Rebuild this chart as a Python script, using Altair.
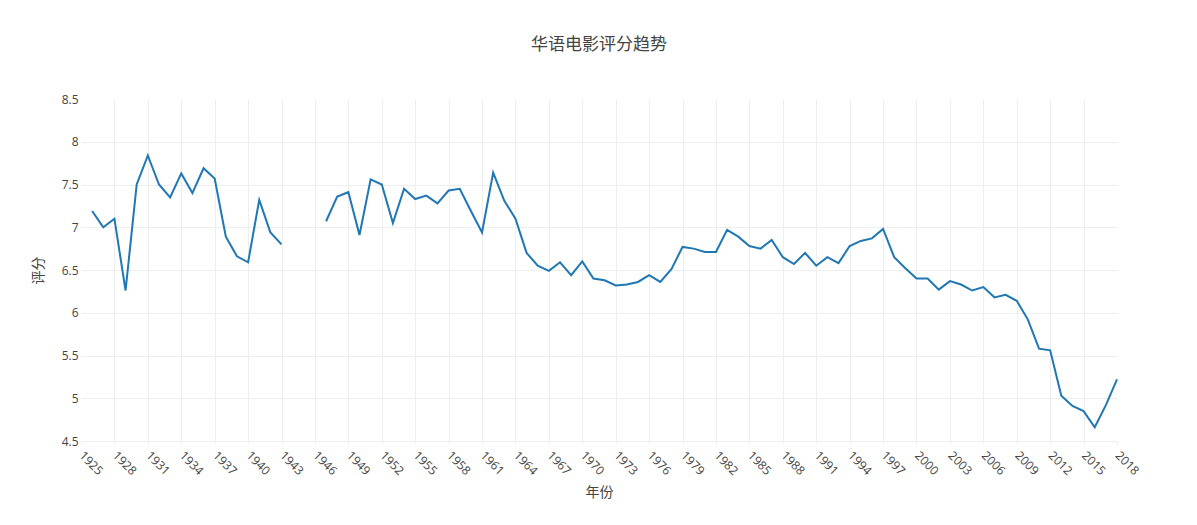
import altair as alt
import pandas as pd

years_a = list(range(1926, 1944))
scores_a = [7.19, 7.00, 7.10, 6.26, 7.50, 7.84, 7.50, 7.35, 7.63, 7.40, 7.69, 7.57,
            6.89, 6.66, 6.59, 7.32, 6.94, 6.80]

years_b = list(range(1947, 2019))
scores_b = [7.07, 7.36, 7.41, 6.91, 7.56, 7.50, 7.05, 7.45, 7.33, 7.37, 7.28, 7.43,
            7.45, 7.19, 6.94, 7.64, 7.31, 7.10, 6.70, 6.55, 6.49, 6.59, 6.44, 6.60,
            6.40, 6.38, 6.32, 6.33, 6.36, 6.44, 6.36, 6.51, 6.77, 6.75, 6.71, 6.71,
            6.97, 6.89, 6.78, 6.75, 6.85, 6.65, 6.57, 6.70, 6.55, 6.65, 6.58, 6.78,
            6.84, 6.87, 6.98, 6.65, 6.52, 6.40, 6.40, 6.27, 6.37, 6.33, 6.26, 6.30,
            6.18, 6.21, 6.14, 5.92, 5.58, 5.56, 5.03, 4.91, 4.85, 4.66, 4.92, 5.22]

x_ticks = list(range(1925, 2019, 3))
y_ticks = [4.5, 5, 5.5, 6, 6.5, 7, 7.5, 8, 8.5]

df = pd.DataFrame({
    "年份": years_a + years_b,
    "评分": scores_a + scores_b,
    "seg": ["a"] * len(years_a) + ["b"] * len(years_b),
})

FONT = "Open Sans, Noto Sans CJK SC, sans-serif"
TXT = "#444444"
GRID = "#eeeeee"

chart = alt.Chart(df).mark_line(color="#1f77b4", strokeWidth=2).encode(
    x=alt.X(
        "年份:Q",
        scale=alt.Scale(domain=[1925, 2018], nice=False, zero=False),
        axis=alt.Axis(
            values=x_ticks,
            format="d",
            labelAngle=45,
            labelAlign="left",
            labelBaseline="middle",
            labelFont=FONT,
            labelFontSize=12,
            labelColor=TXT,
            labelPadding=9,
            labelOverlap=False,
            labelFlush=False,
            domain=False,
            ticks=True,
            tickColor=GRID,
            tickSize=3,
            grid=True,
            gridColor=GRID,
            gridWidth=1,
            gridOpacity={"condition": {"test": "datum.value == 1925 || datum.value == 2018", "value": 0}, "value": 1},
            title="年份",
            titleFont=FONT,
            titleFontSize=14,
            titleFontWeight="normal",
            titleColor=TXT,
            titleX=518,
            titleY=51,
            titleAlign="center",
            titleBaseline="middle",
        ),
    ),
    y=alt.Y(
        "评分:Q",
        scale=alt.Scale(domain=[4.5, 8.5], nice=False, zero=False),
        axis=alt.Axis(
            values=y_ticks,
            format="~g",
            labelFont=FONT,
            labelFontSize=12,
            labelColor=TXT,
            labelPadding=3,
            labelFlush=False,
            domain=False,
            ticks=False,
            grid=True,
            gridColor=GRID,
            gridWidth=1,
            gridOpacity={"condition": {"test": "datum.value == 8.5", "value": 0}, "value": 1},
            title="评分",
            titleFont=FONT,
            titleFontSize=14,
            titleFontWeight="normal",
            titleColor=TXT,
            titleAngle=-90,
            titleX=-43,
            titleY=171,
            titleAlign="center",
            titleBaseline="middle",
        ),
    ),
    detail="seg:N",
).properties(
    width=1036,
    height=342,
    background="white",
    title=alt.TitleParams(
        "华语电影评分趋势",
        font=FONT,
        fontSize=17,
        fontWeight="normal",
        color=TXT,
        anchor="middle",
        frame="group",
        offset=39,
    ),
    autosize=alt.AutoSizeParams(type="none"),
    padding={"left": 73, "top": 91, "right": 72, "bottom": 76},
).configure_view(stroke=None)

chart.save("out.html", embed_options={"renderer": "svg", "actions": False})
